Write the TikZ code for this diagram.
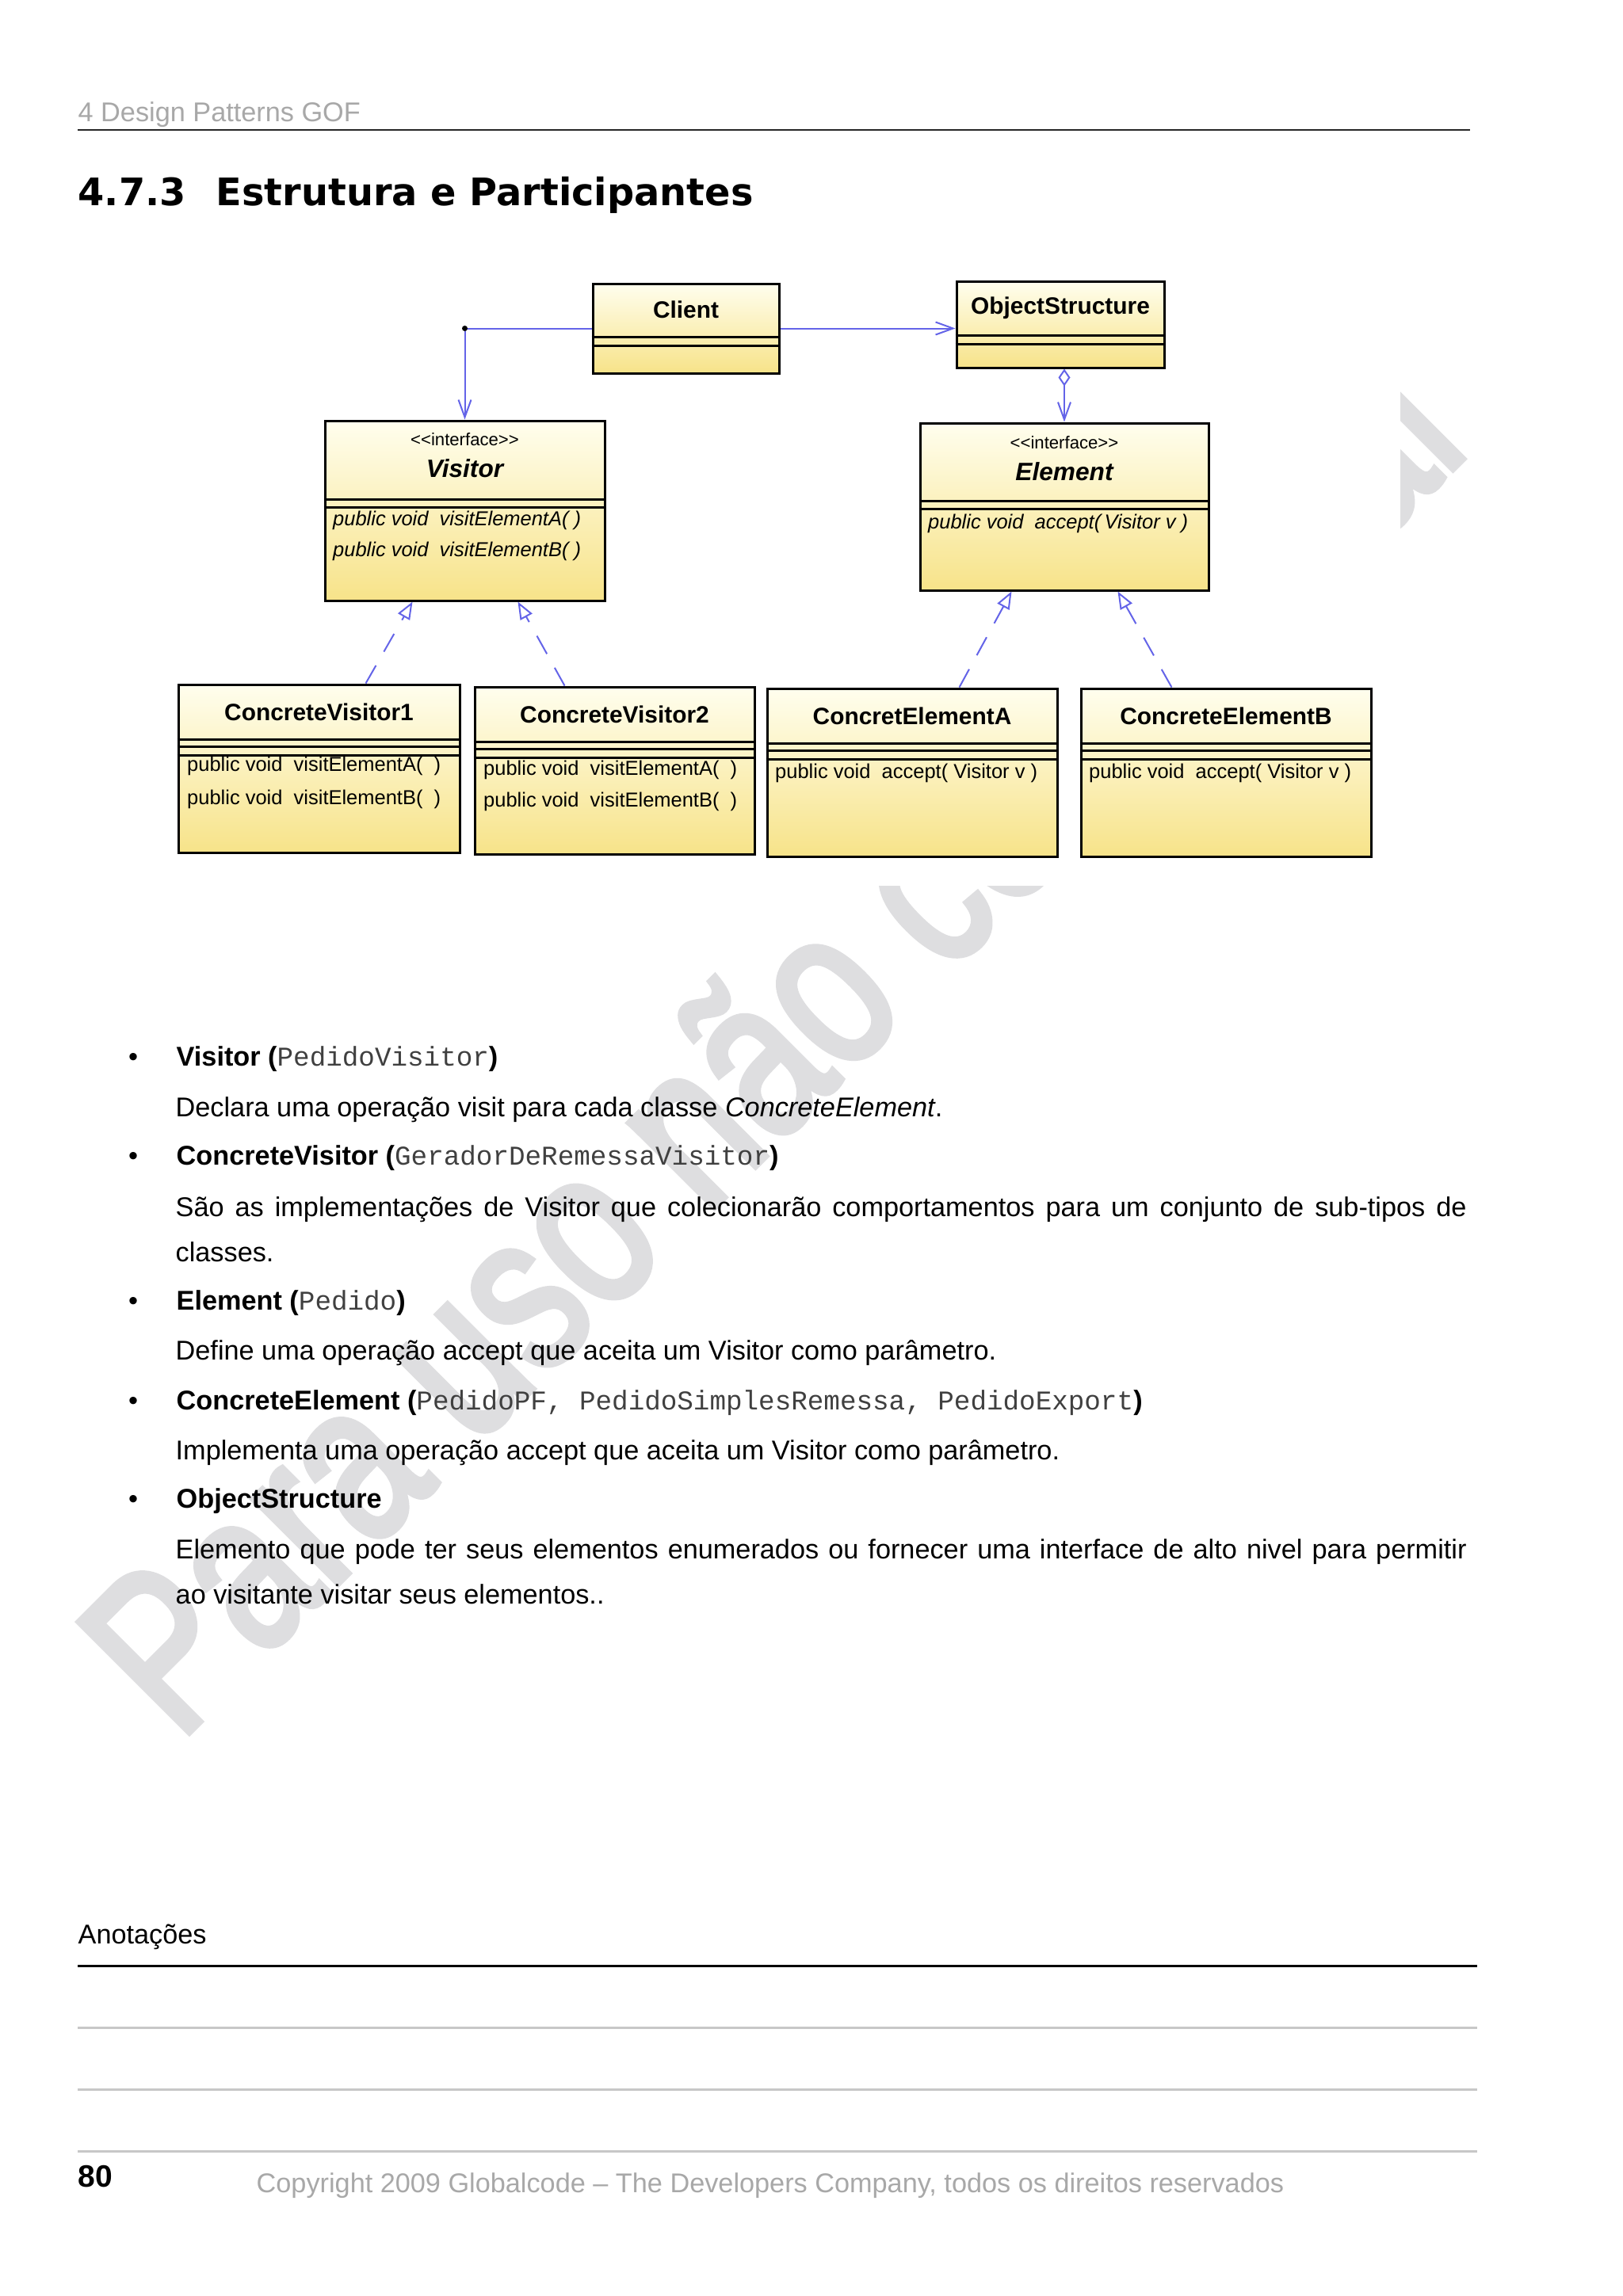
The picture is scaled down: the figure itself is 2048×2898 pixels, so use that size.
\documentclass[tikz,border=0pt]{standalone}
\usepackage{graphicx}
\usepackage{fontspec}
\setmainfont{Liberation Sans}
\setmonofont{Liberation Mono}
\newfontfamily\titlefont{DejaVu Sans}
\newfontfamily\markfont[FakeBold=3]{Liberation Sans}
\usetikzlibrary{positioning, arrows.meta, calc}

\definecolor{umltop}{RGB}{255,254,238}
\definecolor{umlbottom}{RGB}{247,227,137}
\definecolor{umlline}{RGB}{100,100,232}
\definecolor{markgray}{RGB}{222,222,224}
\definecolor{pagegray}{RGB}{168,168,168}

\begin{document}
\begin{tikzpicture}[x=0.1mm, y=-0.1mm,
        cls/.style={draw, line width=0.3mm, top color=umltop, bottom color=umlbottom, inner sep=0pt},
        divider/.style={line width=0.25mm},
        clsname/.style={font=\fontsize{8.5}{10}\selectfont\bfseries, inner sep=0pt},
        ifname/.style={font=\fontsize{9}{10}\selectfont\bfseries\itshape, inner sep=0pt},
        stereo/.style={font=\fontsize{6.3}{7}\selectfont, inner sep=0pt},
        op/.style={font=\fontsize{7.25}{8}\selectfont, anchor=west, inner sep=0pt},
        assoc/.style={draw=umlline, line width=0.2mm, -{Straight Barb[length=2.2mm, width=1.6mm]}},
        aggr/.style={draw=umlline, line width=0.2mm, {Diamond[open, length=2.2mm, width=1.5mm]}-{Straight Barb[length=2.2mm, width=1.6mm]}},
        realize/.style={draw=umlline, line width=0.2mm, dash pattern=on 2.6mm off 2mm, -{Triangle[open, length=2.2mm, width=1.7mm]}},
        body/.style={anchor=base west, inner sep=0pt, font=\fontsize{9.75}{11}\selectfont},
        bullet/.style={anchor=base, inner sep=0pt, font=\fontsize{9.75}{11}\selectfont}
    ]
    \fill[white] (0,0) rectangle (2048,2898);
    \useasboundingbox (0,0) rectangle (2048,2898);

    % watermark, hidden behind the diagram
    \node[anchor=base west, inner sep=0pt, rotate=45, text=markgray, font=\markfont\fontsize{62.5}{64}\selectfont] (Mark) at (225,2200) {\scalebox{1}[1.3]{Para uso não comercial}};
    \fill[white] (205,330) rectangle (1767,1118);

    % page head
    \node[body, text=pagegray] (Head) at (98,153) {4 Design Patterns GOF};
    \draw[line width=0.25mm, black!85] (98,164) -- (1855,164);
    \node[anchor=base west, inner sep=0pt, font=\titlefont\bfseries\fontsize{13.6}{15}\selectfont] (Title) at (98,259) {4.7.3\hspace{0.38cm}Estrutura e Participantes};

    % classes
    \node[cls, minimum width=23.5mm, minimum height=11.3mm] (Client) at (865.5,414.5) {};
    \node[cls, minimum width=26.2mm, minimum height=10.9mm] (Structure) at (1338,409.5) {};
    \node[cls, minimum width=35.3mm, minimum height=22.7mm] (Visitor) at (586.5,644.5) {};
    \node[cls, minimum width=36.4mm, minimum height=21.1mm] (Element) at (1343,639.5) {};
    \node[cls, minimum width=35.5mm, minimum height=21.2mm] (VisitorOne) at (402.5,970) {};
    \node[cls, minimum width=35.3mm, minimum height=21.1mm] (VisitorTwo) at (775.5,972.5) {};
    \node[cls, minimum width=36.6mm, minimum height=21.2mm] (ElementA) at (1151,975) {};
    \node[cls, minimum width=36.6mm, minimum height=21.2mm] (ElementB) at (1547,975) {};

    \foreach \c/\a/\b in {Client/69/80, Structure/70/81, Visitor/101/111, Element/100/110} {
        \draw[divider] ($(\c.north west)+(0,\a)$) -- ($(\c.north east)+(0,\a)$);
        \draw[divider] ($(\c.north west)+(0,\b)$) -- ($(\c.north east)+(0,\b)$);
    }
    \foreach \c in {VisitorOne, VisitorTwo, ElementA, ElementB} {
        \foreach \d in {71, 80, 91}
            \draw[divider] ($(\c.north west)+(0,\d)$) -- ($(\c.north east)+(0,\d)$);
    }

    \node[clsname] (ClientName) at ($(Client.north)+(0,34)$) {Client};
    \node[clsname] (StructureName) at ($(Structure.north)+(0,35)$) {ObjectStructure};

    \node[stereo] (VisitorTag) at ($(Visitor.north)+(0,25)$) {<{}<interface>{}>};
    \node[ifname] (VisitorName) at ($(Visitor.north)+(0,62)$) {Visitor};
    \node[op, font=\fontsize{7.25}{8}\selectfont\itshape] (VisitorOpA) at ($(Visitor.north west)+(11,127)$) {public\ void\ \ visitElementA(\ )};
    \node[op, font=\fontsize{7.25}{8}\selectfont\itshape] (VisitorOpB) at ($(Visitor.north west)+(11,166)$) {public\ void\ \ visitElementB(\ )};

    \node[stereo] (ElementTag) at ($(Element.north)+(0,26)$) {<{}<interface>{}>};
    \node[ifname] (ElementName) at ($(Element.north)+(0,63)$) {Element};
    \node[op, font=\fontsize{7.25}{8}\selectfont\itshape] (ElementOp) at ($(Element.north west)+(11,128)$) {public\ void\ \ accept(\,Visitor v )};

    \node[clsname] (VisitorOneName) at ($(VisitorOne.north)+(0,36)$) {ConcreteVisitor1};
    \node[op] (VisitorOneOpA) at ($(VisitorOne.north west)+(12,104)$) {public\ void\ \ visitElementA(\ \ )};
    \node[op] (VisitorOneOpB) at ($(VisitorOne.north west)+(12,146)$) {public\ void\ \ visitElementB(\ \ )};

    \node[clsname] (VisitorTwoName) at ($(VisitorTwo.north)+(0,36)$) {ConcreteVisitor2};
    \node[op] (VisitorTwoOpA) at ($(VisitorTwo.north west)+(12,106)$) {public\ void\ \ visitElementA(\ \ )};
    \node[op] (VisitorTwoOpB) at ($(VisitorTwo.north west)+(12,146)$) {public\ void\ \ visitElementB(\ \ )};

    \node[clsname] (ElementAName) at ($(ElementA.north)+(0,36)$) {ConcretElementA};
    \node[op] (ElementAOp) at ($(ElementA.north west)+(11,108)$) {public\ void\ \ accept(\ Visitor\ v\ )};

    \node[clsname] (ElementBName) at ($(ElementB.north)+(0,36)$) {ConcreteElementB};
    \node[op] (ElementBOp) at ($(ElementB.north west)+(11,108)$) {public\ void\ \ accept(\ Visitor\ v\ )};

    % relations
    \coordinate (Bend) at (Client.west -| Visitor.north);
    \draw[assoc] (Client.west) -- (Bend) -- (Visitor.north);
    \fill (Bend) circle (0.35mm);
    \draw[assoc] (Client.east) -- (Client.east -| Structure.west);
    \draw[aggr] (Element.north |- Structure.south) -- (Element.north);

    \draw[realize] ($(VisitorOne.north west)+(238,0)$) -- ($(Visitor.south west)+(112,0)$);
    \draw[realize] ($(VisitorTwo.north west)+(115,0)$) -- ($(Visitor.south west)+(245,0)$);
    \draw[realize] ($(ElementA.north west)+(244,0)$) -- ($(Element.south west)+(117,0)$);
    \draw[realize] ($(ElementB.north west)+(116,0)$) -- ($(Element.south west)+(251,0)$);

    % participants
    \node[bullet] (DotA) at (168,1345) {•};
    \node[body] (ItemA) at (222,1345) {{\bfseries Visitor (}{\ttfamily\color{black!75}PedidoVisitor}{\bfseries )}};
    \node[body] (TextA) at (221,1409) {Declara uma operação visit para cada classe \textit{ConcreteElement}.};

    \node[bullet] (DotB) at (168,1470) {•};
    \node[body] (ItemB) at (222,1470) {{\bfseries ConcreteVisitor (}{\ttfamily\color{black!75}GeradorDeRemessaVisitor}{\bfseries )}};
    \node[body] (TextB) at (221,1535) {\makebox[16.29cm][s]{São as implementações de Visitor que colecionarão comportamentos para um conjunto de sub-tipos de}};
    \node[body] (TextBb) at (221,1592) {classes.};

    \node[bullet] (DotC) at (168,1653) {•};
    \node[body] (ItemC) at (222,1653) {{\bfseries Element (}{\ttfamily\color{black!75}Pedido}{\bfseries )}};
    \node[body] (TextC) at (221,1716) {Define uma operação accept que aceita um Visitor como parâmetro.};

    \node[bullet] (DotD) at (168,1779) {•};
    \node[body] (ItemD) at (222,1779) {{\bfseries ConcreteElement (}{\ttfamily\color{black!75}PedidoPF, PedidoSimplesRemessa, PedidoExport}{\bfseries )}};
    \node[body] (TextD) at (221,1842) {Implementa uma operação accept que aceita um Visitor como parâmetro.};

    \node[bullet] (DotE) at (168,1903) {•};
    \node[body] (ItemE) at (222,1903) {\bfseries ObjectStructure};
    \node[body] (TextE) at (221,1967) {\makebox[16.29cm][s]{Elemento que pode ter seus elementos enumerados ou fornecer uma interface de alto nivel para permitir}};
    \node[body] (TextEb) at (221,2024) {ao visitante visitar seus elementos..};

    % notes and foot
    \node[body] (Notes) at (98,2453) {Anotações};
    \draw[line width=0.3mm] (98,2481) -- (1864,2481);
    \foreach \y in {2559, 2637, 2715}
        \draw[line width=0.3mm, black!22] (98,\y) -- (1864,\y);
    \node[anchor=base west, inner sep=0pt, font=\fontsize{11.1}{13}\selectfont\bfseries] (PageNo) at (98,2760) {80};
    \node[body, text=pagegray] (Copy) at (323,2767) {Copyright 2009 Globalcode – The Developers Company, todos os direitos reservados};
\end{tikzpicture}
\end{document}
